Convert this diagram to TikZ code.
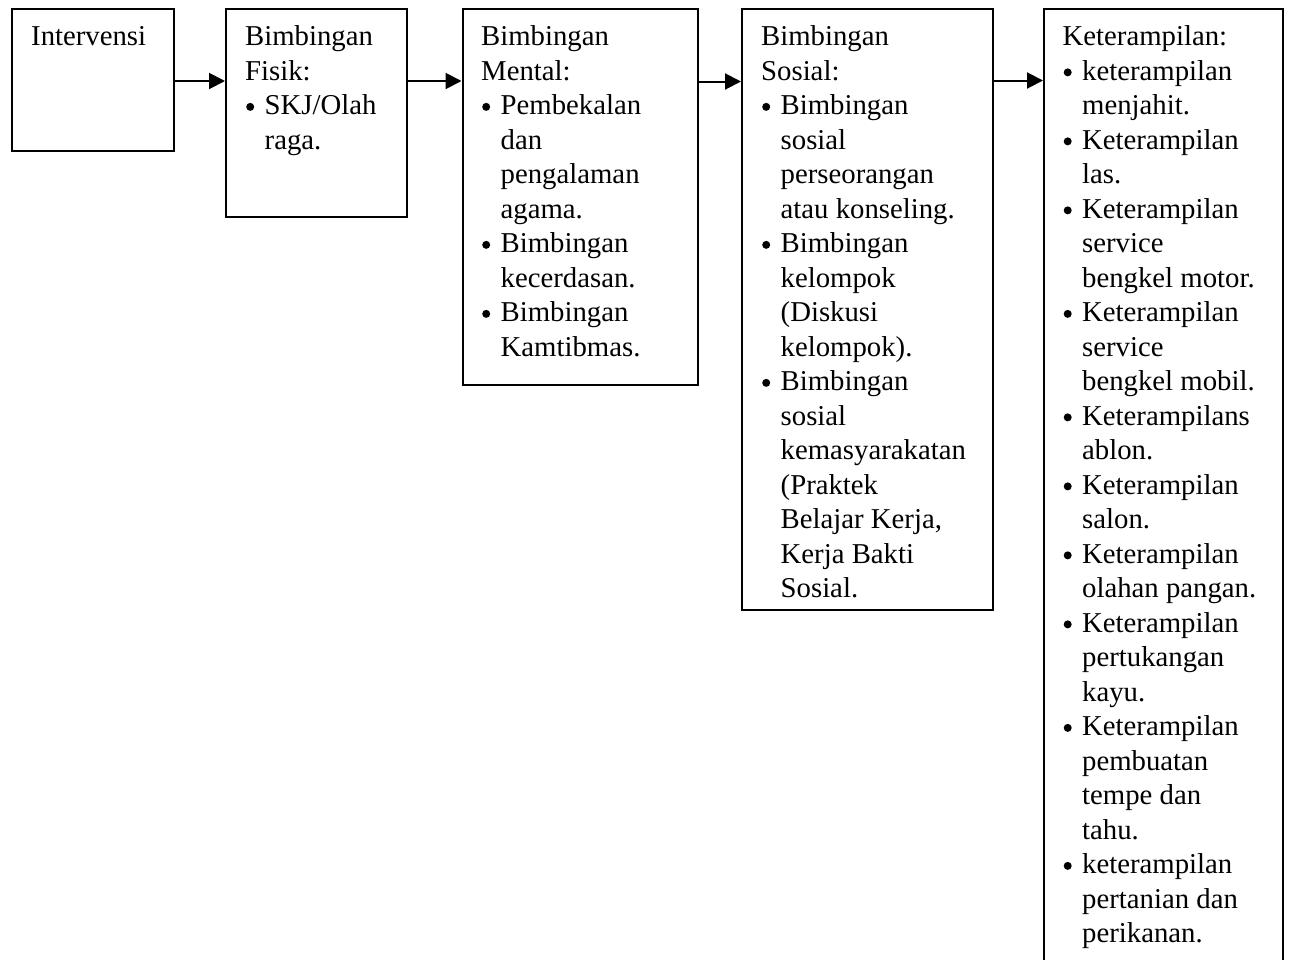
\documentclass[tikz,border=0pt]{standalone}
\usepackage{fontspec}
\setmainfont{Liberation Serif}
\usetikzlibrary{arrows.meta}
\newcommand\bitem{\makebox[19.5pt][l]{\hspace{1pt}\tikz[baseline=0pt]{\fill (4pt,8pt) circle[radius=4pt];}}}
\newcommand\cont{\hspace*{19.5pt}}
\tikzset{
  box/.style={draw, line width=2pt, rectangle, inner sep=0pt, anchor=north west},
  txt/.style={anchor=north west, inner sep=0pt, align=left, font=\fontsize{28.75}{34.5}\selectfont},
  arr/.style={line width=2pt, -{Triangle[length=16pt,width=16pt]}}
}
\begin{document}
\begin{tikzpicture}[x=1pt,y=-1pt]
\useasboundingbox (0,0) rectangle (1289,959);
\clip (0,0) rectangle (1289,959);
\node[box, minimum width=162pt, minimum height=142pt] (b1) at (11,8) {};
\node[box, minimum width=180.5pt, minimum height=208pt] (b2) at (225,8) {};
\node[box, minimum width=235.5pt, minimum height=376pt] (b3) at (461.5,8) {};
\node[box, minimum width=251pt, minimum height=601pt] (b4) at (741,8) {};
\node[box, minimum width=239pt, minimum height=990pt] (b5) at (1043,8) {};

\node[txt] (t1) at (31,21.5) {\strut Intervensi};
\node[txt] (t2) at (245,21.5) {\strut Bimbingan\\ Fisik:\\ \bitem SKJ/Olah\\ \cont raga.};
\node[txt] (t3) at (481,21.5) {\strut Bimbingan\\ Mental:\\ \bitem Pembekalan\\ \cont dan\\ \cont pengalaman\\ \cont agama.\\ \bitem Bimbingan\\ \cont kecerdasan.\\ \bitem Bimbingan\\ \cont Kamtibmas.};
\node[txt] (t4) at (761,21.5) {\strut Bimbingan\\ Sosial:\\ \bitem Bimbingan\\ \cont sosial\\ \cont perseorangan\\ \cont atau konseling.\\ \bitem Bimbingan\\ \cont kelompok\\ \cont (Diskusi\\ \cont kelompok).\\ \bitem Bimbingan\\ \cont sosial\\ \cont kemasyarakatan\\ \cont (Praktek\\ \cont Belajar Kerja,\\ \cont Kerja Bakti\\ \cont Sosial.};
\node[txt] (t5) at (1062.5,21.5) {\strut Keterampilan:\\ \bitem keterampilan\\ \cont menjahit.\\ \bitem Keterampilan\\ \cont las.\\ \bitem Keterampilan\\ \cont service\\ \cont bengkel motor.\\ \bitem Keterampilan\\ \cont service\\ \cont bengkel mobil.\\ \bitem Keterampilans\\ \cont ablon.\\ \bitem Keterampilan\\ \cont salon.\\ \bitem Keterampilan\\ \cont olahan pangan.\\ \bitem Keterampilan\\ \cont pertukangan\\ \cont kayu.\\ \bitem Keterampilan\\ \cont pembuatan\\ \cont tempe dan\\ \cont tahu.\\ \bitem keterampilan\\ \cont pertanian dan\\ \cont perikanan.};

\coordinate (ya) at (0,81);
\coordinate (yb) at (0,81);
\coordinate (yc) at (0,81.5);
\coordinate (yd) at (0,80.5);
\draw[arr] (b1.east |- ya) -- (b2.west |- ya);
\draw[arr] (b2.east |- yb) -- (b3.west |- yb);
\draw[arr] (b3.east |- yc) -- (b4.west |- yc);
\draw[arr] (b4.east |- yd) -- (b5.west |- yd);
\end{tikzpicture}
\end{document}
